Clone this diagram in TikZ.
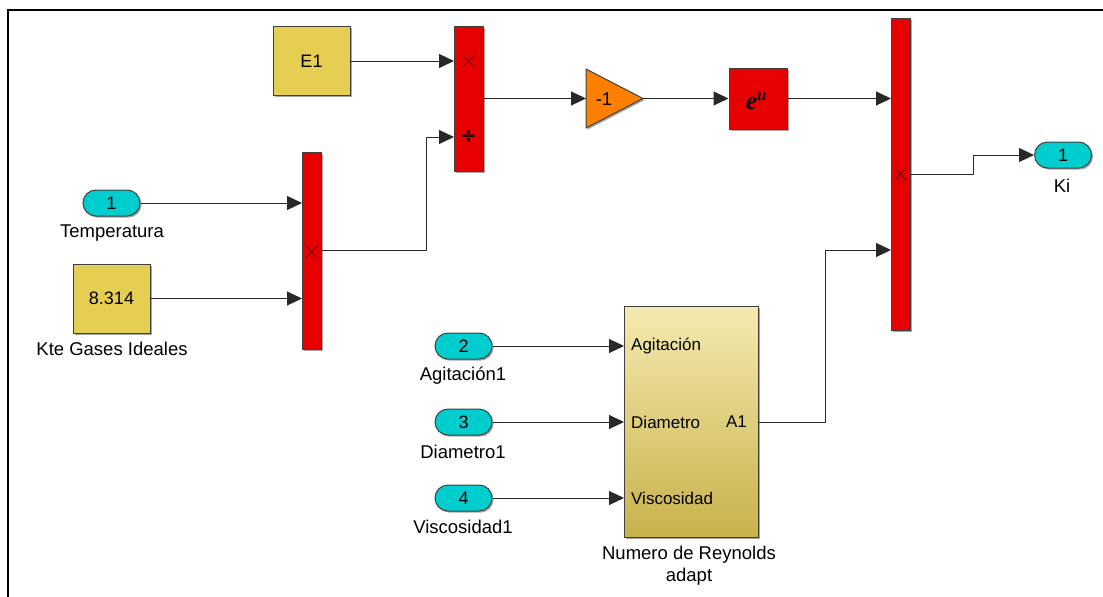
\documentclass[tikz,border=0pt]{standalone}
\usepackage{fontspec}
\setmainfont{Liberation Sans}
\newfontfamily\expserif{Liberation Serif}
\newfontfamily\symfont{DejaVu Sans}
\usetikzlibrary{arrows.meta,shadows,calc}
\definecolor{simred}{RGB}{230,0,0}
\definecolor{simyel}{RGB}{230,206,82}
\definecolor{simcyan}{RGB}{0,206,206}
\definecolor{simorange}{RGB}{255,128,0}
\definecolor{subtop}{RGB}{245,234,176}
\definecolor{subbot}{RGB}{200,178,74}
\definecolor{wire}{RGB}{40,40,40}
\tikzset{
  shad/.style={drop shadow={shadow xshift=1.6pt,shadow yshift=-1.6pt,fill=black,opacity=0.35}},
  blk/.style={draw=black!75,line width=1pt,inner sep=0pt,shad,font=\fontsize{18}{21}\selectfont},
  redblk/.style={blk,fill=simred},
  yelblk/.style={blk,fill=simyel},
  port/.style={blk,fill=simcyan,rounded corners=13pt,minimum width=57pt,minimum height=26pt},
  lbl/.style={font=\fontsize{18.5}{22}\selectfont,inner sep=0pt,align=center},
  plbl/.style={font=\fontsize{17}{20}\selectfont,inner sep=0pt},
  arr/.style={draw=wire,line width=1pt,-{Triangle[length=15pt,width=14pt]}},
  xmark/.style={draw=black!70!red,line width=0.7pt},
}
\begin{document}
\begin{tikzpicture}[x=1pt,y=-1pt]
\useasboundingbox (0,0) rectangle (1103,597);
\draw[line width=2.2pt,line cap=rect] (8,597) -- (8,10) -- (1103,10);

% blocks
\node[yelblk,minimum width=77pt,minimum height=69pt] (E1) at (311.5,61) {E1};
\node[redblk,minimum width=29pt,minimum height=145pt] (prod1) at (468.5,98.5) {};
\node[redblk,minimum width=58pt,minimum height=61pt] (exp) at (758,98.5) {};
\node[font=\expserif\bfseries\itshape\fontsize{26}{26}\selectfont,inner sep=0pt] (explbl) at (756,101) {e\raisebox{9pt}{\fontsize{16}{16}\selectfont u}};
\node[redblk,minimum width=19pt,minimum height=312pt] (prod3) at (900.5,174) {};
\node[redblk,minimum width=19pt,minimum height=197pt] (prod2) at (311.5,250.5) {};
\node[port] (Ki) at (1063,155) {1};
\node[lbl] (Kilbl) at (1062,186) {Ki};
\node[port] (T) at (111.5,203) {1};
\node[lbl] (Tlbl) at (112,233) {Temperatura};
\node[yelblk,minimum width=77pt,minimum height=69pt] (K) at (111.5,298.5) {8.314};
\node[lbl] (Klbl) at (112,349) {Kte Gases Ideales};
\node[port] (in2) at (463.5,346) {2};
\node[lbl] (in2lbl) at (463,376) {Agitación1};
\node[port] (in3) at (463.5,422) {3};
\node[lbl] (in3lbl) at (463,452) {Diametro1};
\node[port] (in4) at (463.5,498) {4};
\node[lbl] (in4lbl) at (463,527) {Viscosidad1};

% subsystem
\node[draw=black!75,line width=1pt,inner sep=0pt,shad,top color=subtop,bottom color=subbot,minimum width=134pt,minimum height=231pt] (ss) at (691,421.5) {};
\node[plbl,anchor=west] (ssl1) at (631,346) {Agitación};
\node[plbl,anchor=west] (ssl2) at (631,422) {Diametro};
\node[plbl,anchor=west] (ssl3) at (631,498) {Viscosidad};
\node[plbl,anchor=east] (ssl4) at (747,422) {A1};
\node[lbl] (sslbl) at (689,566) {Numero de Reynolds\\adapt};

% gain triangle
\coordinate (gainin) at (586,98.5);
\coordinate (gainout) at (643,98.5);
\filldraw[fill=simorange,draw=black!75,line width=1pt,line join=round,shad] (586,69) -- (643,98.5) -- (586,128) -- cycle;
\node[lbl] (gainlbl) at (604,99) {-1};

% product symbols
\draw[xmark] (462.5,55) -- (474.5,67) (462.5,67) -- (474.5,55);
\node[font=\symfont\bfseries\fontsize{20}{20}\selectfont,inner sep=0pt] (divs) at (468.5,137) {÷};
\draw[xmark] (305.5,246) -- (317.5,258) (305.5,258) -- (317.5,246);
\draw[xmark] (895,168) -- (906,180) (895,180) -- (906,168);

% port coordinates
\coordinate (p1a) at (454,61);
\coordinate (p1b) at (454,137);
\coordinate (p2a) at (302,203);
\coordinate (p2b) at (302,298.5);
\coordinate (p3a) at (891,98.5);
\coordinate (p3b) at (891,250);
\coordinate (ssa) at (624,346);
\coordinate (ssb) at (624,422);
\coordinate (ssc) at (624,498);
\coordinate (ssout) at (758,422);

% wires
\draw[arr] (E1.east) -- (p1a);
\draw[arr] (prod1.east) -- (gainin);
\draw[arr] (gainout) -- (exp.west);
\draw[arr] (exp.east) -- (p3a);
\draw[arr] (prod2.east) -- ++(105,0) |- (p1b);
\draw[arr] (T.east) -- (p2a);
\draw[arr] (K.east) -- (p2b);
\draw[arr] (in2.east) -- (ssa);
\draw[arr] (in3.east) -- (ssb);
\draw[arr] (in4.east) -- (ssc);
\draw[arr] (ssout) -- ++(67,0) |- (p3b);
\draw[arr] (prod3.east) -- ++(63,0) |- (Ki.west);
\end{tikzpicture}
\end{document}
